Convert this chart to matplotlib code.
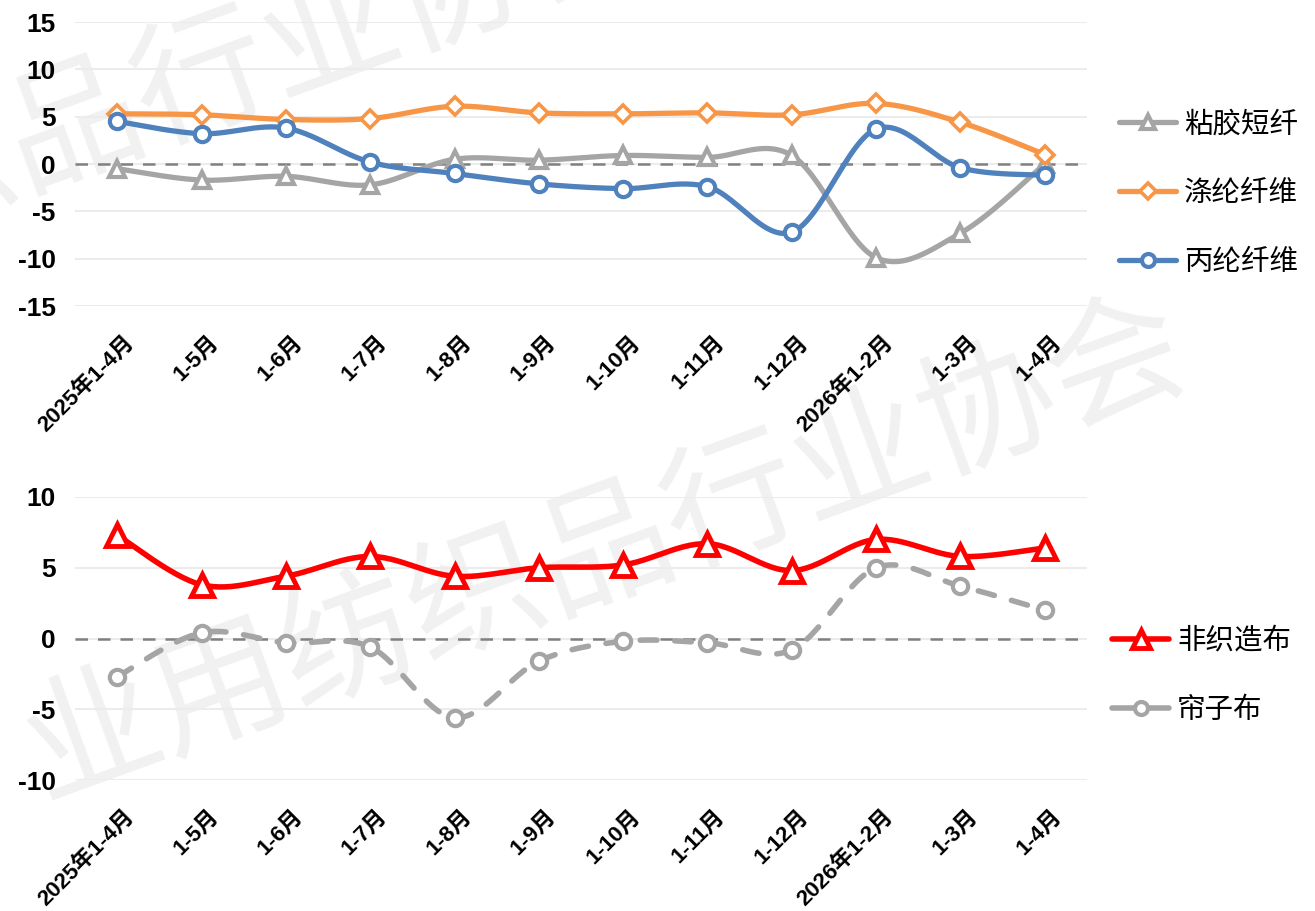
import numpy as np
import matplotlib
matplotlib.use("Agg")
import matplotlib.pyplot as plt
from matplotlib.lines import Line2D
import matplotlib.transforms as mtransforms

plt.rcParams['font.family'] = ['Liberation Sans', 'Noto Sans CJK SC', 'DejaVu Sans']

# ---------------- data ----------------
months = ["2025年1-4月", "1-5月", "1-6月", "1-7月", "1-8月", "1-9月", "1-10月",
          "1-11月", "1-12月", "2026年1-2月", "1-3月", "1-4月"]

viscose = [-0.5, -1.7, -1.3, -2.2, 0.5, 0.4, 0.9, 0.7, 0.9, -9.9, -7.3, 0.0]
polyester = [5.3, 5.2, 4.7, 4.8, 6.1, 5.4, 5.3, 5.4, 5.2, 6.4, 4.4, 1.0]
polypropylene = [4.5, 3.2, 3.8, 0.2, -1.0, -2.1, -2.6, -2.4, -7.2, 3.7, -0.4, -1.2]

nonwoven = [7.3, 3.8, 4.4, 5.8, 4.4, 5.0, 5.2, 6.7, 4.8, 7.0, 5.8, 6.4]
cord = [-2.7, 0.4, -0.3, -0.6, -5.6, -1.6, -0.2, -0.3, -0.8, 5.0, 3.7, 2.0]

top_names = ["粘胶短纤", "涤纶纤维", "丙纶纤维"]
bot_names = ["非织造布", "帘子布"]
watermark = "业用纺织品行业协会"
watermark_top = "纺织品行业协会"


def smooth(y, n=30):
    """Excel-like smoothed line (Catmull-Rom style Bezier)."""
    y = np.asarray(y, float)
    x = np.arange(len(y), dtype=float)
    P = np.column_stack([x, y])
    out = []
    for i in range(len(P) - 1):
        p0 = P[i - 1] if i > 0 else P[i]
        p1 = P[i]
        p2 = P[i + 1]
        p3 = P[i + 2] if i + 2 < len(P) else P[i + 1]
        c1 = p1 + (p2 - p0) / 6.0
        c2 = p2 - (p3 - p1) / 6.0
        t = np.linspace(0, 1, n)[:, None]
        seg = ((1 - t) ** 3) * p1 + 3 * ((1 - t) ** 2) * t * c1 + 3 * (1 - t) * t ** 2 * c2 + t ** 3 * p2
        out.append(seg if i == 0 else seg[1:])
    out = np.vstack(out)
    return out[:, 0], out[:, 1]


W, H = 1315, 911
fig = plt.figure(figsize=(W / 100, H / 100), dpi=100)
fig.patch.set_facecolor('white')

ax1 = fig.add_axes([75 / W, 1 - 306 / H, 1012 / W, 284 / H])
ax2 = fig.add_axes([75 / W, 1 - 780 / H, 1012 / W, 283 / H])

# watermark
fig.text(30 / W, 1 - 760 / H, watermark, rotation=20, rotation_mode='anchor',
         ha='left', va='center', fontsize=98, color='#f1f1f1',
         family=['Noto Sans CJK SC'], zorder=-5)
fig.text(-245 / W, 1 - 245 / H, watermark_top, rotation=20, rotation_mode='anchor',
         ha='left', va='center', fontsize=98, color='#f1f1f1',
         family=['Noto Sans CJK SC'], zorder=-5, clip_on=True)

x = np.arange(len(months))


def style_axes(ax, lim, ticks):
    ax.set_facecolor('none')
    ax.set_xlim(-0.5, len(months) - 0.5)
    ax.set_ylim(*lim)
    ax.set_yticks(ticks)
    ax.set_yticklabels([str(t) for t in ticks], fontsize=19, fontweight='bold')
    ax.grid(axis='y', color='#ececec', linewidth=1.5)
    ax.set_axisbelow(True)
    for s in ax.spines.values():
        s.set_visible(False)
    ax.tick_params(axis='both', length=0)
    ax.tick_params(axis='y', pad=14)
    ax.axhline(0, color='#808080', linewidth=1.8, linestyle=(0, (5, 4)), zorder=1)
    ax.set_xticks(x)
    ax.set_xticklabels(months, rotation=45, ha='right', va='center',
                       rotation_mode='anchor', fontsize=16, fontweight='bold')
    ax.tick_params(axis='x', pad=24)


style_axes(ax1, (-15, 15), [15, 10, 5, 0, -5, -10, -15])
style_axes(ax2, (-10, 10), [10, 5, 0, -5, -10])

for lab in ax1.get_xticklabels() + ax2.get_xticklabels():
    lab.set_transform(lab.get_transform() + mtransforms.ScaledTranslation(14 / 100, 0, fig.dpi_scale_trans))


def draw(ax, y, color, marker, ms, mew, lw, ls='-', z=3):
    sx, sy = smooth(y)
    ax.plot(sx, sy, color=color, linewidth=lw, linestyle=ls, solid_capstyle='round',
            dash_capstyle='round', zorder=z)
    ax.plot(x, y, linestyle='none', marker=marker, markersize=ms, markerfacecolor='white',
            markeredgecolor=color, markeredgewidth=mew, zorder=z + 0.5)
    return Line2D([], [], color=color, linewidth=lw, linestyle='-', solid_capstyle='round',
                  marker=marker, markersize=ms * 0.85, markerfacecolor='white',
                  markeredgecolor=color, markeredgewidth=mew)


grey = '#a5a5a5'
orange = '#f79646'
blue = '#4f81bd'
red = '#ff0000'

h1 = draw(ax1, viscose, grey, '^', 12, 3, 3.8, z=3)
h2 = draw(ax1, polyester, orange, 'D', 9.5, 2.6, 3.8, z=4)
h3 = draw(ax1, polypropylene, blue, 'o', 11, 3, 3.8, z=5)

h4 = draw(ax2, nonwoven, red, '^', 16, 3.5, 4.0, z=5)
h5 = draw(ax2, cord, grey, 'o', 11, 3, 4.0, ls=(0, (3, 3.2)), z=4)

fig.legend([h1, h2, h3], top_names, loc='center left',
           bbox_to_anchor=(1105 / W, 1 - 194 / H), frameon=False,
           fontsize=20.5, handlelength=2.0, labelspacing=1.5, handletextpad=0.28,
           borderpad=0)
fig.legend([h4, h5], bot_names, loc='center left',
           bbox_to_anchor=(1098 / W, 1 - 676 / H), frameon=False,
           fontsize=20.5, handlelength=2.0, labelspacing=1.5, handletextpad=0.28,
           borderpad=0)

fig.savefig('out.png', dpi=100, facecolor='white')
